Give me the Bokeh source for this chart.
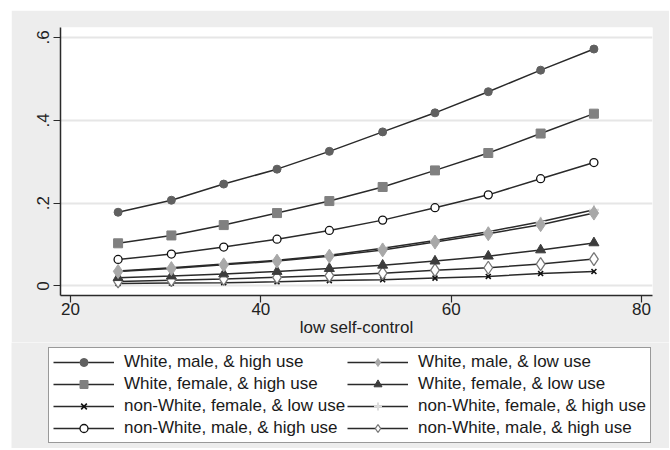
from bokeh.plotting import figure
from bokeh.models import Range1d, FixedTicker, Legend, LegendItem
from bokeh.embed import file_html
from bokeh.resources import INLINE

# ---- data ----
x_vals = [25, 30.6, 36.1, 41.7, 47.2, 52.8, 58.3, 63.9, 69.4, 75]
white_male_high = [0.178, 0.207, 0.246, 0.282, 0.325, 0.372, 0.418, 0.469, 0.521, 0.572]
white_female_high = [0.103, 0.122, 0.147, 0.176, 0.205, 0.239, 0.279, 0.321, 0.368, 0.416]
nonwhite_male_high = [0.064, 0.077, 0.094, 0.113, 0.134, 0.159, 0.189, 0.220, 0.259, 0.298]
white_male_low = [0.035, 0.042, 0.051, 0.060, 0.072, 0.087, 0.106, 0.126, 0.148, 0.176]
nonwhite_female_high = [0.036, 0.044, 0.053, 0.062, 0.074, 0.091, 0.110, 0.131, 0.155, 0.184]
white_female_low = [0.020, 0.024, 0.029, 0.035, 0.042, 0.050, 0.060, 0.072, 0.087, 0.104]
nonwhite_male_d = [0.011, 0.014, 0.017, 0.021, 0.025, 0.031, 0.038, 0.044, 0.053, 0.065]
nonwhite_female_low = [0.006, 0.007, 0.008, 0.010, 0.013, 0.015, 0.019, 0.023, 0.030, 0.035]

y_ticks = [0, 0.2, 0.4, 0.6]
y_tick_labels = ["0", ".2", ".4", ".6"]
x_ticks = [20, 40, 60, 80]

FONT = "Liberation Sans"
BG = "#ededed"
LINE = "#2a2a2a"

p = figure(width=658, height=332, output_backend="svg", toolbar_location=None,
           x_range=Range1d(18.949, 81.155), y_range=Range1d(-0.023, 0.624),
           min_border_left=49, min_border_top=17, min_border_right=17, min_border_bottom=47,
           margin=(10, 0, 0, 11))
p.background_fill_color = "white"
p.border_fill_color = BG
p.outline_line_color = None

p.xgrid.grid_line_color = None
p.ygrid.grid_line_color = "#e6e6e6"
p.ygrid.grid_line_width = 2
p.ygrid.ticker = FixedTicker(ticks=y_ticks)

p.yaxis.ticker = FixedTicker(ticks=y_ticks)
p.yaxis.major_label_overrides = {t: l for t, l in zip(y_ticks, y_tick_labels)}
p.yaxis.major_label_orientation = "vertical"
p.xaxis.ticker = FixedTicker(ticks=x_ticks)
p.xaxis.axis_label = "low self-control"

for ax in (p.xaxis[0], p.yaxis[0]):
    ax.axis_line_color = LINE
    ax.axis_line_width = 1.5
    ax.major_tick_line_color = LINE
    ax.major_tick_line_width = 1.2
    ax.major_tick_out = 7
    ax.major_tick_in = 0
    ax.minor_tick_line_color = None
    ax.major_label_text_font = FONT
    ax.major_label_text_font_size = "17px"
    ax.major_label_text_color = "#222222"
    ax.axis_label_text_font = FONT
    ax.axis_label_text_font_size = "17px"
    ax.axis_label_text_font_style = "normal"
    ax.axis_label_text_color = "#222222"
p.xaxis.major_label_standoff = 0
p.xaxis.axis_label_standoff = 0
p.yaxis.major_label_standoff = 4

# legend holder figure (its dummy glyphs lie outside its visible range)
lg = figure(width=658, height=106, output_backend="svg", toolbar_location=None,
            x_range=Range1d(0, 1), y_range=Range1d(0, 1),
            x_axis_location=None, y_axis_location=None,
            min_border=0, margin=(0, 0, 0, 11))
lg.background_fill_color = BG
lg.border_fill_color = BG
lg.outline_line_color = None
lg.grid.grid_line_color = None

items = {}
hidden_x = [-5, -4]
hidden_y = [-5, -4]

def series(key, ys, marker, size, fill, line_c, lw_marker=1.0):
    p.line(x_vals, ys, line_color=LINE, line_width=1.5)
    p.scatter(x_vals, ys, marker=marker, size=size, fill_color=fill,
              line_color=line_c, line_width=lw_marker)
    r1 = lg.line(hidden_x, hidden_y, line_color=LINE, line_width=1.5)
    r2 = lg.scatter(hidden_x, hidden_y, marker=marker, size=size, fill_color=fill,
                    line_color=line_c, line_width=lw_marker)
    items[key] = [r1, r2]

series("nwfl", nonwhite_female_low, "x", 7, None, "#111111", 1.6)
series("nwmd", nonwhite_male_d, "diamond", 13, "white", "#777777", 1.3)
series("wfl", white_female_low, "triangle", 10, "#3c3c3c", "#3c3c3c")
series("nwfh", nonwhite_female_high, "cross", 10, None, "#dcdcdc", 2.0)
series("wml", white_male_low, "diamond", 14, "#a8a8a8", "#a8a8a8")
series("nwmh", nonwhite_male_high, "circle", 8, "white", "#111111", 1.3)
series("wfh", white_female_high, "square", 9, "#808080", "#808080")
series("wmh", white_male_high, "circle", 8, "#606060", "#606060")

order = [
    ("wmh", "White, male, & high use"),
    ("wml", "White, male, & low use"),
    ("wfh", "White, female, & high use"),
    ("wfl", "White, female, & low use"),
    ("nwfl", "non-White, female, & low use"),
    ("nwfh", "non-White, female, & high use"),
    ("nwmh", "non-White, male, & high use"),
    ("nwmd", "non-White, male, & high use"),
]
legend = Legend(items=[LegendItem(label=lab, renderers=items[k]) for k, lab in order],
                orientation="horizontal", ncols=2, location=(37, 5))
legend.label_text_font = FONT
legend.label_text_font_size = "17px"
legend.label_text_color = "#1a1a1a"
legend.glyph_width = 61
legend.glyph_height = 20
legend.label_height = 20
legend.label_standoff = 10
legend.spacing = 2
legend.padding = 4
legend.margin = 0
legend.border_line_color = "#333333"
legend.border_line_width = 1.2
legend.background_fill_color = "white"
legend.background_fill_alpha = 1
lg.add_layout(legend, "center")

open("out.html", "w").write(file_html([p, lg], INLINE))
